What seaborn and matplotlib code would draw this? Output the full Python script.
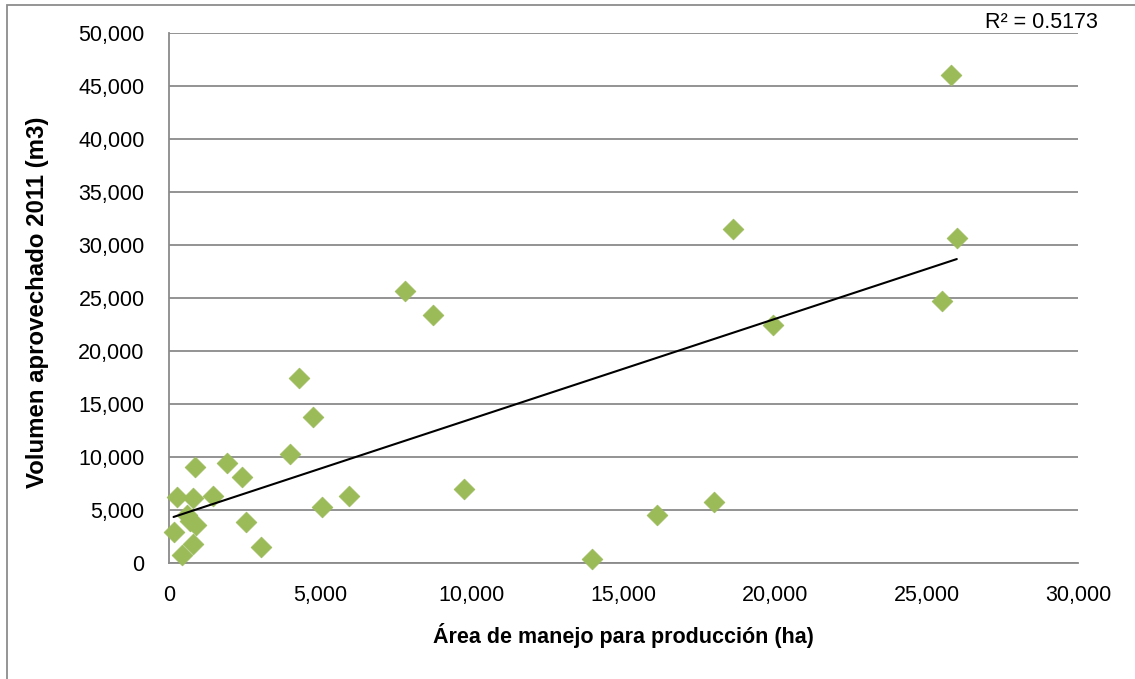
import numpy as np
import pandas as pd
import matplotlib
matplotlib.use("Agg")
import matplotlib.pyplot as plt
import seaborn as sns
from matplotlib.ticker import FuncFormatter, MultipleLocator
from matplotlib.patches import Rectangle

# Managed production area (ha) and volume harvested in 2011 (m3)
area_ha = [25800, 18600, 26000, 7800, 8700, 25500, 19950, 4300, 4750, 4000,
           9750, 5950, 5050, 16100, 18000, 13950, 3050, 850, 1900, 2400,
           250, 800, 1450, 600, 700, 900, 150, 800, 420, 2550]
volumen_m3 = [46000, 31500, 30700, 25700, 23400, 24700, 22500, 17500, 13750, 10300,
              7000, 6300, 5250, 4500, 5800, 400, 1550, 9050, 9400, 8100,
              6200, 6150, 6300, 4500, 4000, 3600, 2900, 1800, 750, 3900]
r2_text = "R² = 0.5173"
x_label = "Área de manejo para producción (ha)"
y_label = "Volumen aprovechado 2011 (m3)"

df = pd.DataFrame({"area": area_ha, "volumen": volumen_m3})

sns.set_theme(style="white")
plt.rcParams["font.family"] = ["Liberation Sans", "DejaVu Sans"]
plt.rcParams["text.color"] = "black"

fig = plt.figure(figsize=(11.35, 6.79), dpi=100)
ax = fig.add_axes([169 / 1135, 1 - 563 / 679, (1078 - 169) / 1135, (563 - 33) / 679])

grid_c = "#8a8a8a"
green = "#9bbb59"

# outer chart frame
fig.patches.append(Rectangle((7 / 1135, -0.05), 1.2, 1 - 5 / 679 + 0.05,
                             transform=fig.transFigure, fill=False,
                             edgecolor="#8c8c8c", linewidth=1.3, zorder=0))

ax.set_xlim(0, 30000)
ax.set_ylim(0, 50000)
ax.xaxis.set_major_locator(MultipleLocator(5000))
ax.yaxis.set_major_locator(MultipleLocator(5000))
fmt = FuncFormatter(lambda v, p: f"{int(v):,}")
ax.xaxis.set_major_formatter(fmt)
ax.yaxis.set_major_formatter(fmt)

ax.grid(axis="y", color=grid_c, linewidth=1.3)
ax.grid(axis="x", visible=False)
ax.set_axisbelow(True)
for s in ["top", "right"]:
    ax.spines[s].set_visible(False)
for s in ["left", "bottom"]:
    ax.spines[s].set_color(grid_c)
    ax.spines[s].set_linewidth(1.3)

ax.tick_params(axis="both", which="major", direction="out", length=6.5,
               width=1.3, color=grid_c, labelsize=15.5, labelcolor="black")
ax.tick_params(axis="y", pad=11)
ax.tick_params(axis="x", pad=9)

sns.scatterplot(data=df, x="area", y="volumen", marker="D", s=112,
                color=green, edgecolor=green, linewidth=0.5, ax=ax, zorder=3,
                clip_on=False)
sns.regplot(data=df, x="area", y="volumen", scatter=False, ci=None, truncate=True,
            line_kws={"color": "black", "linewidth": 1.5, "zorder": 4}, ax=ax)

ax.set_xlabel("")
ax.set_ylabel("")
fig.text(623 / 1135, 1 - 636 / 679, x_label, ha="center", va="center",
         fontsize=15.5, fontweight="bold", color="black")
fig.text(38 / 1135, 1 - 302 / 679, y_label, ha="center", va="center",
         rotation=90, fontsize=17.3, fontweight="bold", color="black")
fig.text(1041 / 1135, 1 - 23 / 679, r2_text, ha="center", va="center",
         fontsize=15.5, color="black")

fig.savefig("out.png", dpi=100)
